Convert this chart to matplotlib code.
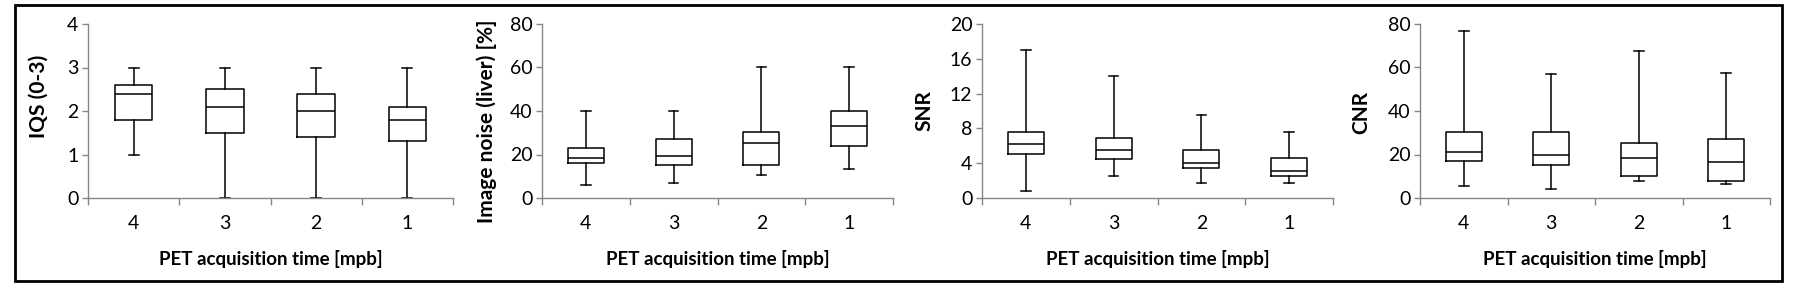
import matplotlib
matplotlib.use("Agg")
import matplotlib.pyplot as plt
from matplotlib.patches import Rectangle

plt.rcParams['font.family'] = ['Lato', 'DejaVu Sans']

categories = ['4', '3', '2', '1']
xlabel = 'PET acquisition time [mpb]'

# per panel: whisker low, Q1, median, Q3, whisker high (one entry per category)
iqs_low = [1.0, 0.0, 0.0, 0.0]
iqs_q1 = [1.8, 1.5, 1.4, 1.3]
iqs_med = [2.4, 2.1, 2.0, 1.8]
iqs_q3 = [2.6, 2.5, 2.4, 2.1]
iqs_high = [3.0, 3.0, 3.0, 3.0]

noise_low = [6.0, 7.0, 10.7, 13.3]
noise_q1 = [16.0, 15.2, 15.2, 24.0]
noise_med = [18.4, 19.4, 25.2, 33.0]
noise_q3 = [22.9, 27.1, 30.3, 40.0]
noise_high = [40.0, 40.0, 60.0, 60.0]

snr_low = [0.8, 2.5, 1.75, 1.75]
snr_q1 = [5.05, 4.47, 3.44, 2.52]
snr_med = [6.2, 5.5, 4.0, 3.1]
snr_q3 = [7.57, 6.88, 5.5, 4.6]
snr_high = [17.0, 14.0, 9.5, 7.55]

cnr_low = [5.5, 4.1, 7.8, 6.4]
cnr_q1 = [17.0, 15.1, 10.1, 7.8]
cnr_med = [21.1, 19.7, 18.4, 16.5]
cnr_q3 = [30.3, 30.3, 25.2, 27.1]
cnr_high = [77.0, 57.0, 67.5, 57.5]

panels = [
    ('IQS (0-3)', iqs_low, iqs_q1, iqs_med, iqs_q3, iqs_high, 4, 1),
    ('Image noise (liver) [%]', noise_low, noise_q1, noise_med, noise_q3, noise_high, 80, 20),
    ('SNR', snr_low, snr_q1, snr_med, snr_q3, snr_high, 20, 4),
    ('CNR', cnr_low, cnr_q1, cnr_med, cnr_q3, cnr_high, 80, 20),
]

W, H = 1794, 295
fig = plt.figure(figsize=(W / 100, H / 100), dpi=100)

# axes extents in pixels (left, right); shared top/bottom
ax_px = [(88, 453), (542, 893), (982, 1333), (1420, 1770)]
top_px, bot_px = 24, 198
ylab_x = [39, 487, 924, 1361]
ylab_y = [96, 121, 111, 112]
grey = '#868686'

for (name, lo, q1, med, q3, hi, ymax, ystep), (l, r), lx, ly in zip(panels, ax_px, ylab_x, ylab_y):
    ax = fig.add_axes([l / W, 1 - bot_px / H, (r - l) / W, (bot_px - top_px) / H])
    stats = []
    for i in range(len(categories)):
        stats.append({'whislo': lo[i], 'q1': q1[i], 'med': med[i], 'q3': q3[i],
                      'whishi': hi[i], 'fliers': []})
    ax.bxp(stats, positions=range(len(categories)), widths=0.41, capwidths=0.11,
           showfliers=False,
           boxprops=dict(color='black', linewidth=1.1),
           medianprops=dict(color='black', linewidth=1.1),
           whiskerprops=dict(color='black', linewidth=1.1),
           capprops=dict(color='black', linewidth=1.1))
    ax.set_xlim(-0.5, len(categories) - 0.5)
    ax.set_ylim(0, ymax)
    ax.set_yticks(range(0, ymax + 1, ystep))
    ax.set_xticks([i - 0.5 for i in range(len(categories) + 1)])
    ax.set_xticklabels([])
    ax.set_xticks(range(len(categories)), minor=True)
    ax.set_xticklabels(categories, minor=True)
    ax.tick_params(axis='x', which='major', direction='out', length=5, color=grey, width=1)
    ax.tick_params(axis='x', which='minor', length=0, pad=12, labelsize=14)
    ax.tick_params(axis='y', direction='out', length=4, color=grey, width=1, labelsize=14, pad=3)
    for s in ['top', 'right']:
        ax.spines[s].set_visible(False)
    for s in ['left', 'bottom']:
        ax.spines[s].set_color(grey)
        ax.spines[s].set_linewidth(1)
    ax.set_ylabel(name, fontweight='bold', fontsize=15)
    ax.yaxis.set_label_coords((lx - l) / (r - l), (bot_px - ly) / (bot_px - top_px))
    ax.set_xlabel(xlabel, fontweight='bold', fontsize=13.5)
    ax.xaxis.set_label_coords(0.5, (bot_px - 259) / (bot_px - top_px))
    ax.xaxis.label.set_va('center')
    ax.yaxis.label.set_va('center')

# outer frame
fig.patches.append(Rectangle((15 / W, 1 - 281 / H), (1782 - 15) / W, (281 - 5) / H,
                             transform=fig.transFigure, fill=False, edgecolor='black',
                             linewidth=2))

fig.savefig('out.png', dpi=100)
